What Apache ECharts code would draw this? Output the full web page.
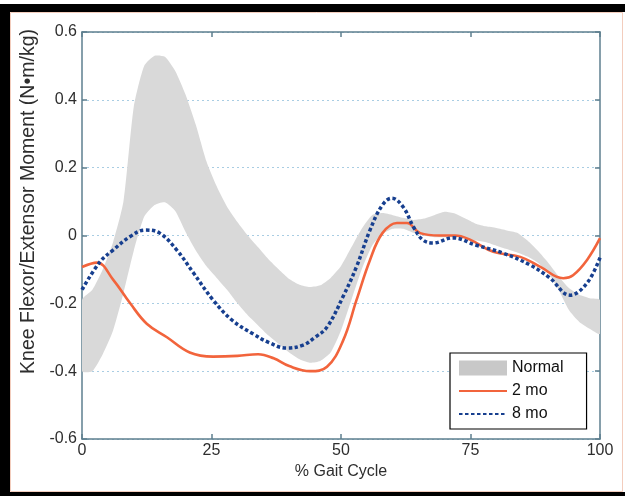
<!DOCTYPE html>
<html>
<head>
<meta charset="utf-8">
<script src="https://cdn.jsdelivr.net/npm/echarts@6/dist/echarts.min.js"></script>
<style>
html,body{margin:0;padding:0;background:#ffffff;}
#chart{width:625px;height:496px;}
</style>
</head>
<body>
<div id="chart"></div>
<script>
// ---- Data ----
var xTicks = [0, 25, 50, 75, 100];
var yTicks = [-0.6, -0.4, -0.2, 0, 0.2, 0.4, 0.6];

// Normal band (shaded region), read every 2 % of gait cycle
var bandX = [0, 2, 4, 6, 8, 10, 12, 14, 16, 18, 20, 22, 24, 26, 28, 30, 32, 34, 36, 38, 40, 42, 44, 46, 48, 50,
             52, 54, 56, 58, 60, 62, 64, 66, 68, 70, 72, 74, 76, 78, 80, 82, 84, 86, 88, 90, 92, 94, 96, 98, 100];
var bandUpper = [-0.19, -0.16, -0.10, -0.02, 0.10, 0.38, 0.50, 0.53, 0.527, 0.485, 0.415, 0.325, 0.22, 0.145, 0.085, 0.04, 0.0, -0.035, -0.07, -0.10, -0.128, -0.145, -0.152, -0.147, -0.125, -0.09,
                 -0.035, 0.02, 0.06, 0.066, 0.06, 0.052, 0.046, 0.05, 0.06, 0.07, 0.065, 0.05, 0.035, 0.027, 0.022, 0.015, 0.008, -0.015, -0.045, -0.08, -0.12, -0.155, -0.175, -0.185, -0.19];
var bandLower = [-0.40, -0.40, -0.35, -0.28, -0.17, -0.045, 0.055, 0.09, 0.098, 0.072, 0.01, -0.045, -0.09, -0.125, -0.16, -0.20, -0.235, -0.265, -0.295, -0.32, -0.345, -0.365, -0.375, -0.37, -0.345, -0.28,
                 -0.19, -0.10, -0.03, 0.005, 0.02, 0.02, 0.008, 0.0, -0.005, -0.005, -0.005, -0.008, -0.015, -0.02, -0.03, -0.04, -0.05, -0.062, -0.08, -0.11, -0.16, -0.22, -0.255, -0.275, -0.29];

// 2 mo (solid orange)
var mo2X = [0, 2.9, 6, 9.3, 12.5, 16.4, 20.8, 25.3, 30, 34, 37, 40, 44, 47.3, 50.4, 53, 55.6, 58, 60.8, 62.7, 65.3, 69, 72, 75, 79.4, 84.6, 88.4, 92.9, 94.8, 97.5, 100];
var mo2Y = [-0.093, -0.08, -0.13, -0.20, -0.26, -0.30, -0.345, -0.357, -0.355, -0.350, -0.362, -0.385, -0.40, -0.387, -0.31, -0.19, -0.072, 0.007, 0.037, 0.037, 0.007, 0.0, 0.0, -0.013, -0.048, -0.063, -0.092, -0.126, -0.117, -0.072, -0.008];

// 8 mo (dotted navy)
var mo8X = [0, 3.5, 6, 9.3, 12.2, 15, 18.3, 21.5, 25.3, 29, 33, 36, 39.5, 42.7, 45, 47.3, 50.4, 53, 55.6, 58, 59.8, 62, 64, 65.8, 67.8, 71.6, 76, 81.3, 86.5, 90.3, 94.2, 97.5, 100];
var mo8Y = [-0.16, -0.077, -0.043, -0.003, 0.016, 0.007, -0.043, -0.11, -0.19, -0.25, -0.29, -0.315, -0.332, -0.323, -0.30, -0.27, -0.18, -0.092, 0.016, 0.09, 0.11, 0.084, 0.025, -0.013, -0.022, -0.007, -0.028, -0.052, -0.087, -0.125, -0.176, -0.14, -0.065];

var seriesNames = ['Normal', '2 mo', '8 mo'];
var xName = '% Gait Cycle';
var yName = 'Knee Flexor/Extensor Moment (N\u2022m/kg)';

function pairs(xs, ys) { return xs.map(function (x, i) { return [x, ys[i]]; }); }

var axisColor = '#5e7f8f';
var labelColor = '#2e2e2e';
var bandColor = '#d9d9d9';

var chart = echarts.init(document.getElementById('chart'), null, { renderer: 'canvas' });

var option = {
  animation: false,
  backgroundColor: '#ffffff',
  textStyle: { fontFamily: 'Liberation Sans, Arial, sans-serif' },
  grid: { left: 82, right: 25, top: 32, bottom: 57, containLabel: false },
  graphic: [
    { type: 'rect', shape: { x: 10.5, y: 12.5, width: 612, height: 479 }, style: { fill: 'none', stroke: '#f3cdbd', lineWidth: 1 }, z: -1 },
    { type: 'rect', shape: { x: 0, y: 4, width: 625, height: 8 }, style: { fill: '#000000' } },
    { type: 'rect', shape: { x: 0, y: 4, width: 10, height: 492 }, style: { fill: '#000000' } },
    { type: 'rect', shape: { x: 0, y: 492, width: 625, height: 4 }, style: { fill: '#000000' } }
  ],
  legend: {
    orient: 'vertical',
    left: 450,
    top: 353,
    padding: [7, 23, 7, 8],
    itemGap: 7,
    itemWidth: 48,
    itemHeight: 15,
    borderColor: '#000000',
    borderWidth: 1.2,
    backgroundColor: '#ffffff',
    textStyle: { fontSize: 16, color: '#111111', fontFamily: 'Liberation Sans, Arial, sans-serif' },
    data: [
      { name: seriesNames[0], icon: 'rect', itemStyle: { color: '#c8c8c8' } },
      { name: seriesNames[1], itemStyle: { opacity: 0 } },
      { name: seriesNames[2], itemStyle: { opacity: 0 } }
    ]
  },
  xAxis: [
    {
      type: 'value', position: 'bottom', min: xTicks[0], max: xTicks[xTicks.length - 1], interval: 25,
      name: xName, nameLocation: 'middle', nameGap: 18,
      nameTextStyle: { fontSize: 16, color: labelColor },
      axisLine: { show: true, onZero: false, lineStyle: { color: axisColor, width: 1.5 } },
      axisTick: { show: true, inside: true, length: 5, lineStyle: { color: axisColor, width: 1.5 } },
      axisLabel: { fontSize: 16, color: labelColor, margin: 4, showMinLabel: true, showMaxLabel: true },
      splitLine: { show: false }
    },
    {
      type: 'value', position: 'top', min: xTicks[0], max: xTicks[xTicks.length - 1], interval: 25,
      axisLine: { show: true, onZero: false, lineStyle: { color: axisColor, width: 1.5 } },
      axisTick: { show: true, inside: true, length: 5, lineStyle: { color: axisColor, width: 1.5 } },
      axisLabel: { show: false },
      splitLine: { show: false }
    }
  ],
  yAxis: [
    {
      type: 'value', position: 'left', min: yTicks[0], max: yTicks[yTicks.length - 1], interval: 0.2,
      name: yName, nameLocation: 'middle', nameGap: 39, nameRotate: 90,
      nameTextStyle: { fontSize: 19.5, color: labelColor, padding: [0, 0, 0, 68] },
      axisLine: { show: true, onZero: false, lineStyle: { color: axisColor, width: 1.5 } },
      axisTick: { show: true, inside: true, length: 5, lineStyle: { color: axisColor, width: 1.5 } },
      axisLabel: {
        fontSize: 16, color: labelColor, margin: 5,
        formatter: function (v) { return String(parseFloat(v.toFixed(1)) || 0); }
      },
      splitLine: { show: true, lineStyle: { color: '#a9cde3', type: [2, 3], width: 1 } }
    },
    {
      type: 'value', position: 'right', min: yTicks[0], max: yTicks[yTicks.length - 1], interval: 0.2,
      axisLine: { show: true, onZero: false, lineStyle: { color: axisColor, width: 1.5 } },
      axisTick: { show: true, inside: true, length: 5, lineStyle: { color: axisColor, width: 1.5 } },
      axisLabel: { show: false },
      splitLine: { show: false }
    }
  ],
  series: [
    {
      name: seriesNames[0],
      type: 'custom',
      xAxisIndex: 0, yAxisIndex: 0,
      clip: true,
      z: 1,
      itemStyle: { color: '#c8c8c8' },
      data: [[0, 0]],
      renderItem: function (params, api) {
        var pts = [];
        for (var i = 0; i < bandX.length; i++) pts.push(api.coord([bandX[i], bandUpper[i]]));
        for (var j = bandX.length - 1; j >= 0; j--) pts.push(api.coord([bandX[j], bandLower[j]]));
        return {
          type: 'polygon',
          shape: { points: pts, smooth: 0.2 },
          style: { fill: bandColor, stroke: null }
        };
      }
    },
    {
      name: seriesNames[1],
      type: 'line',
      xAxisIndex: 0, yAxisIndex: 0,
      z: 3,
      symbol: 'none',
      smooth: 0.4,
      color: '#f2643c',
      lineStyle: { color: '#f2643c', width: 2.6 },
      data: pairs(mo2X, mo2Y)
    },
    {
      name: seriesNames[2],
      type: 'line',
      xAxisIndex: 0, yAxisIndex: 0,
      z: 4,
      symbol: 'none',
      smooth: 0.4,
      color: '#173f8f',
      lineStyle: { color: '#173f8f', width: 3.5, type: [3.5, 2.5], cap: 'butt' },
      data: pairs(mo8X, mo8Y)
    }
  ]
};
chart.setOption(option);
</script>
</body>
</html>
